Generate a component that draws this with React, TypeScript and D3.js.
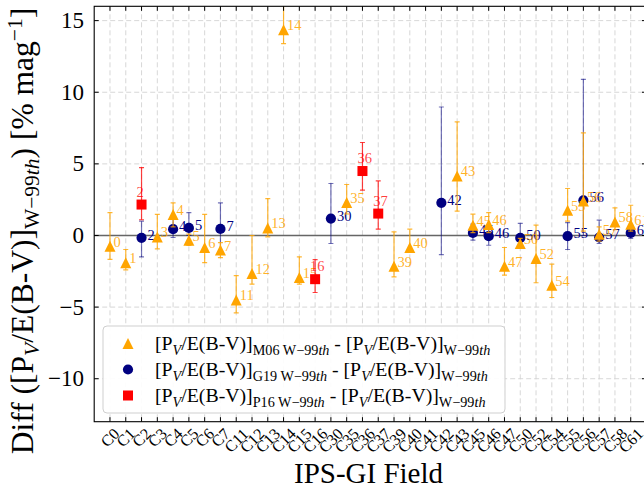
import React from "react";
import * as d3 from "d3";

const fields = ["C0","C1","C2","C3","C4","C5","C6","C7","C11","C12","C13","C14","C15","C16","C30","C35","C36","C37","C39","C40","C41","C42","C43","C45","C46","C47","C50","C52","C54","C55","C56","C57","C58","C61"];

const m06Fields = ["C0","C1","C3","C4","C5","C6","C7","C11","C12","C13","C14","C15","C35","C39","C40","C43","C45","C46","C47","C50","C52","C54","C55","C56","C57","C58","C61"];
const m06Values = [-0.75,-1.9,-0.1,1.47,-0.33,-0.84,-1.02,-4.5,-2.65,0.53,14.37,-2.93,2.3,-2.14,-0.84,4.16,0.72,0.77,-2.14,-0.56,-1.6,-3.47,1.77,2.4,0.09,0.95,0.79];
const m06Low = [-1.67,-2.4,-0.93,0.6,-0.7,-1.9,-1.54,-5.4,-3.4,-0.1,13.4,-3.4,1.5,-2.89,-1.14,1.7,0.2,0.2,-2.77,-0.9,-3.3,-4.33,1.0,0.3,-0.4,0.4,0.3];
const m06High = [1.6,-0.98,1.47,2.27,0.1,1.47,-0.5,-2.8,0,2.58,16.5,-1.49,3.56,0.25,0.44,7.93,1.49,1.6,-0.84,-0.2,0.72,-2.0,3.28,7.16,0.6,1.93,2.11];

const g19Fields = ["C2","C4","C5","C7","C30","C42","C45","C46","C50","C55","C56","C57","C61"];
const g19Values = [-0.16,0.44,0.53,0.46,1.18,2.28,0.18,-0.05,-0.17,-0.05,2.46,-0.14,0.18];
const g19Low = [-1.5,-0.14,0.0,-1.14,-0.56,-1.33,-0.33,-0.68,-0.8,-0.98,0.0,-0.56,-0.2];
const g19High = [1.0,1.3,1.6,2.27,3.63,8.97,0.8,0.6,0.84,0.9,10.9,1.07,0.7];

const p16Fields = ["C2","C16","C36","C37"];
const p16Values = [2.16,-3.05,4.5,1.53];
const p16Low = [1.1,-3.98,3.16,0.44];
const p16High = [4.74,-1.68,6.49,3.81];

const yTicks = [-10,-5,0,5,10,15];

const W = 644, H = 490;
const FONT = "'Liberation Serif', 'DejaVu Serif', serif";
const ORANGE = "#FFA500", NAVY = "#000080", RED = "#FF0000";

const x = d3.scaleLinear().domain([-1, 34]).range([94.2, 94.2 + 35 * 15.78]);
const y = d3.scaleLinear().domain([-13, 16]).range([421.7, 6.3]);
const left = x(-1), right = x(34), top = y(16), bottom = y(-13);

function xi(f: string) { return x(fields.indexOf(f)); }

function marker(kind: string, cx: number, cy: number, color: string, key?: any) {
  if (kind === "tri") {
    const s = 5.5;
    return <path key={key} d={`M${cx},${cy - s}L${cx + s},${cy + s}L${cx - s},${cy + s}Z`} fill={color} />;
  }
  if (kind === "circ") return <circle key={key} cx={cx} cy={cy} r={5.1} fill={color} />;
  return <rect key={key} x={cx - 5} y={cy - 5} width={10} height={10} fill={color} />;
}

function Series({ fs, vals, lo, hi, color, kind, errOpacity, labelDx, labelDy, labelOpacity }: any) {
  return (
    <g>
      {fs.map((f: string, i: number) => {
        const cx = xi(f);
        return (
          <g key={"e" + f} stroke={color} strokeOpacity={errOpacity} strokeWidth={1.2}>
            <line x1={cx} x2={cx} y1={y(lo[i])} y2={y(hi[i])} />
            <line x1={cx - 2.5} x2={cx + 2.5} y1={y(lo[i])} y2={y(lo[i])} />
            <line x1={cx - 2.5} x2={cx + 2.5} y1={y(hi[i])} y2={y(hi[i])} />
          </g>
        );
      })}
      {fs.map((f: string, i: number) => marker(kind, xi(f), y(vals[i]), color, "m" + f))}
      {fs.map((f: string, i: number) => (
        <text key={"t" + f} x={xi(f) + labelDx} y={y(vals[i]) + labelDy} fill={color} fillOpacity={labelOpacity}
          fontFamily={FONT} fontSize={14.5}>{f.slice(1)}</text>
      ))}
    </g>
  );
}

function LegendText({ sub, x0, y0 }: any) {
  const fsz = 19.8, ssz = 14.2, d = 4.5;
  return (
    <text x={x0} y={y0} fontFamily={FONT} fontSize={fsz} fill="#000">
      [P<tspan fontStyle="italic" fontSize={ssz} dy={d}>V</tspan>
      <tspan dy={-d}>/E(B-V)]</tspan>
      <tspan fontSize={ssz} dy={d}>{sub} W−99<tspan fontStyle="italic">th</tspan></tspan>
      <tspan dy={-d}> - [P</tspan>
      <tspan fontStyle="italic" fontSize={ssz} dy={d}>V</tspan>
      <tspan dy={-d}>/E(B-V)]</tspan>
      <tspan fontSize={ssz} dy={d}>W−99<tspan fontStyle="italic">th</tspan></tspan>
    </text>
  );
}

export default function App() {
  const xfs = 16;
  return (
    <svg width={W} height={H} style={{ position: "absolute", left: 0, top: 0, display: "block", background: "#fff" }}>
      <defs>
        <clipPath id="plot"><rect x={left} y={top} width={right - left} height={bottom - top} /></clipPath>
      </defs>
      {/* grid */}
      <g stroke="#d3d3d3" strokeWidth={0.9} strokeDasharray="5,3">
        {fields.map((f, i) => <line key={f} x1={x(i)} x2={x(i)} y1={top} y2={bottom} />)}
        {yTicks.map(t => <line key={t} x1={left} x2={right} y1={y(t)} y2={y(t)} />)}
      </g>
      <line x1={left} x2={right} y1={y(0)} y2={y(0)} stroke="#666" strokeWidth={1.6} />
      <g clipPath="url(#plot)">
        <Series fs={g19Fields} vals={g19Values} lo={g19Low} hi={g19High} color={NAVY} kind="circ" errOpacity={0.55} labelDx={6} labelDy={2} labelOpacity={1} />
        <Series fs={m06Fields} vals={m06Values} lo={m06Low} hi={m06High} color={ORANGE} kind="tri" errOpacity={0.8} labelDx={3.5} labelDy={0.5} labelOpacity={0.85} />
        <Series fs={p16Fields} vals={p16Values} lo={p16Low} hi={p16High} color={RED} kind="sq" errOpacity={0.75} labelDx={-5} labelDy={-8} labelOpacity={0.75} />
      </g>
      {/* legend */}
      <rect x={103} y={326} width={402} height={87} rx={4} fill="#fff" fillOpacity={0.92} stroke="#cfcfcf" strokeWidth={1} />
      {marker("tri", 128, 343.5, ORANGE)}
      {marker("circ", 128, 369.5, NAVY)}
      {marker("sq", 128, 395.5, RED)}
      <LegendText sub="M06" x0={155} y0={350} />
      <LegendText sub="G19" x0={155} y0={376} />
      <LegendText sub="P16" x0={155} y0={402} />
      {/* spines */}
      <rect x={left} y={top} width={right - left} height={bottom - top} fill="none" stroke="#000" strokeWidth={1.1} />
      {/* ticks */}
      <g stroke="#000" strokeWidth={1}>
        {fields.map((f, i) => (
          <g key={f}>
            <line x1={x(i)} x2={x(i)} y1={bottom} y2={bottom - 4.5} />
            <line x1={x(i)} x2={x(i)} y1={top} y2={top + 4.5} />
          </g>
        ))}
        {yTicks.map(t => (
          <g key={t}>
            <line x1={left} x2={left + 4.5} y1={y(t)} y2={y(t)} />
            <line x1={right} x2={right - 4.5} y1={y(t)} y2={y(t)} />
          </g>
        ))}
      </g>
      {/* y tick labels */}
      {yTicks.map(t => (
        <text key={t} x={84} y={y(t)} textAnchor="end" dominantBaseline="central" fontFamily={FONT} fontSize={23}>
          {t < 0 ? "−" + Math.abs(t) : String(t)}
        </text>
      ))}
      {/* x tick labels */}
      {fields.map((f, i) => {
        const w = (0.667 + 0.5 * (f.length - 1)) * xfs;
        const ext = (w + 0.7 * xfs) / Math.SQRT2;
        const yc = 427 + ext / 2;
        return (
          <text key={f} transform={`translate(${x(i)},${yc}) rotate(-45)`} textAnchor="middle" dominantBaseline="central"
            fontFamily={FONT} fontSize={xfs}>{f}</text>
        );
      })}
      {/* axis titles */}
      <text x={368.5} y={483} textAnchor="middle" fontFamily={FONT} fontSize={29}>IPS-GI Field</text>
      <text transform={`translate(33,231) rotate(-90)`} textAnchor="middle" fontFamily={FONT} fontSize={31.5}>
        Diff ([P<tspan fontStyle="italic" fontSize={21.5} dy={6}>V</tspan>
        <tspan dy={-6}>/E(B-V)]</tspan>
        <tspan fontSize={21.5} dy={6}>W−99<tspan fontStyle="italic">th</tspan></tspan>
        <tspan dy={-6}>) [% mag</tspan>
        <tspan fontSize={21.5} dy={-11}>−1</tspan>
        <tspan dy={11}>]</tspan>
      </text>
    </svg>
  );
}
